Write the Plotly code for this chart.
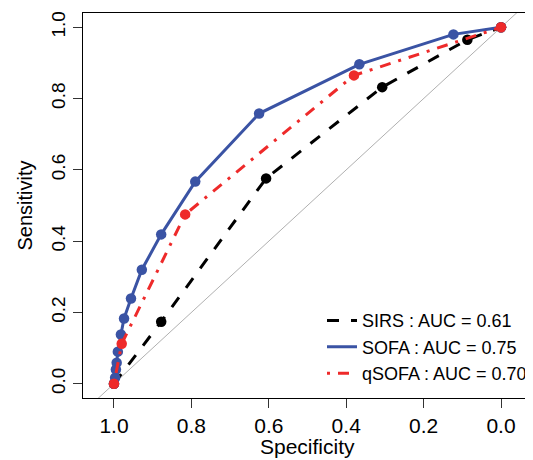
import plotly.graph_objects as go

# ROC points (specificity, sensitivity)
sirs_spec = [1.0, 0.878, 0.607, 0.307, 0.087, 0.0]
sirs_sens = [0.0, 0.174, 0.576, 0.832, 0.965, 1.0]

sofa_spec = [1.0, 0.997, 0.995, 0.993, 0.99, 0.982, 0.974, 0.956, 0.928, 0.878, 0.79, 0.625, 0.366, 0.123, 0.0]
sofa_sens = [0.0, 0.017, 0.04, 0.059, 0.09, 0.138, 0.183, 0.239, 0.32, 0.419, 0.567, 0.758, 0.896, 0.98, 1.0]

qsofa_spec = [1.0, 0.98, 0.816, 0.38, 0.0]
qsofa_sens = [0.0, 0.112, 0.475, 0.865, 1.0]

labels = ["SIRS : AUC = 0.61", "SOFA : AUC = 0.75", "qSOFA : AUC = 0.70"]
tick_vals = [0.0, 0.2, 0.4, 0.6, 0.8, 1.0]
tick_text = ["0.0", "0.2", "0.4", "0.6", "0.8", "1.0"]

FONT = "Liberation Sans, Arial, Helvetica, sans-serif"
BLUE = "#3a53a4"
RED = "#ee2a2a"

fig = go.Figure()

# chance diagonal (sens = 1 - spec), clipped to the plot area
fig.add_trace(go.Scatter(x=[1.2, -0.2], y=[-0.2, 1.2], mode="lines",
                         line=dict(color="#b0b0b0", width=1),
                         showlegend=False, hoverinfo="skip"))

series = [
    (sirs_spec, sirs_sens, "black", "12px,12px", labels[0]),
    (sofa_spec, sofa_sens, BLUE, "solid", labels[1]),
    (qsofa_spec, qsofa_sens, RED, "3px,8px,11px,8px", labels[2]),
]

for sx, sy, col, dash, name in series:
    fig.add_trace(go.Scatter(x=sx, y=sy, mode="lines", name=name,
                             line=dict(color=col, width=3, dash=dash)))
    fig.add_trace(go.Scatter(x=sx, y=sy, mode="markers", showlegend=False,
                             marker=dict(color=col, size=10.5)))

# page body has an 8px margin, so the figure is a bit smaller than the window
fig.update_layout(
    width=525, height=452,
    margin=dict(l=75, r=1, t=5, b=62),
    plot_bgcolor="white", paper_bgcolor="white",
    font=dict(family=FONT, size=19, color="black"),
    legend=dict(x=1, y=0.015, xanchor="right", yanchor="bottom",
                bgcolor="rgba(0,0,0,0)", font=dict(size=18),
                tracegroupgap=0),
    annotations=[
        dict(text="Specificity", x=0.5, y=0, xref="paper", yref="paper",
             xanchor="center", yanchor="middle", yshift=-48,
             showarrow=False, font=dict(size=21)),
        dict(text="Sensitivity", x=0, y=0.5, xref="paper", yref="paper",
             xanchor="center", yanchor="middle", xshift=-59, textangle=-90,
             showarrow=False, font=dict(size=20)),
    ],
)
fig.update_xaxes(range=[1.08, -0.08], tickvals=tick_vals, ticktext=tick_text,
                 showgrid=False, zeroline=False, showline=True, mirror=True,
                 linecolor="black", linewidth=1, ticks="outside", ticklen=9,
                 tickcolor="#333", automargin=False, tickfont=dict(size=21))
fig.update_yaxes(range=[-0.04, 1.04], tickvals=tick_vals, ticktext=tick_text,
                 showgrid=False, zeroline=False, showline=True, mirror=True,
                 linecolor="black", linewidth=1, ticks="outside", ticklen=9,
                 tickcolor="#333", tickangle=-90, automargin=False,
                 tickfont=dict(size=19))

fig.write_html("out.html")
